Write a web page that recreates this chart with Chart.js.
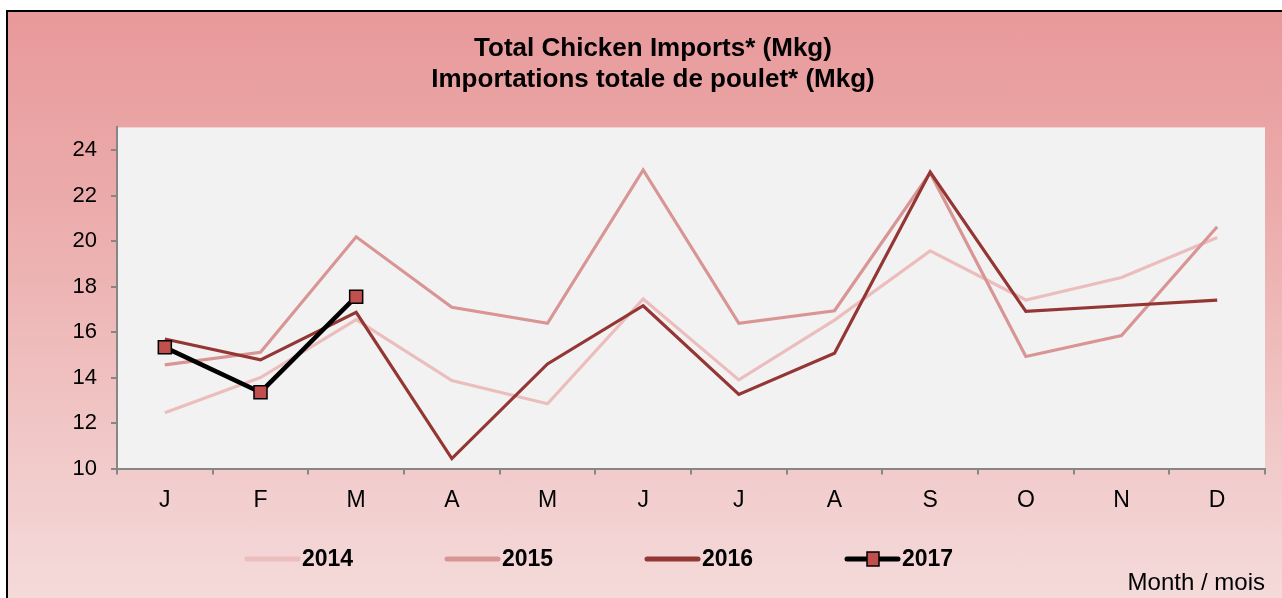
<!DOCTYPE html>
<html>
<head>
<meta charset="utf-8">
<script src="https://cdn.jsdelivr.net/npm/chart.js@4"></script>
<style>
  html, body { margin: 0; padding: 0; background: #fff; overflow: hidden; }
  #wrap {
    position: absolute; left: 6px; top: 10px;
    width: 1290px; height: 600px;
    border-left: 2px solid #000; border-top: 2px solid #000;
    background: linear-gradient(to bottom, #e8999a 0%, #ecadad 35%, #f5dcdc 100%);
  }
  canvas { display: block; }
</style>
</head>
<body>
<div id="wrap"><canvas id="importsChart" width="1290" height="600"></canvas></div>
<script>
const months = ["J", "F", "M", "A", "M", "J", "J", "A", "S", "O", "N", "D"];
const yearLabels = ["2014", "2015", "2016", "2017"];
const imports2014 = [12.45, 14.0, 16.55, 13.87, 12.85, 17.46, 13.9, 16.53, 19.57, 17.41, 18.4, 20.16];
const imports2015 = [14.56, 15.11, 20.19, 17.09, 16.39, 23.13, 16.39, 16.94, 23.0, 14.93, 15.85, 20.63];
const imports2016 = [15.7, 14.78, 16.87, 10.44, 14.6, 17.16, 13.26, 15.07, 23.04, 16.91, 17.16, 17.41];
const imports2017 = [15.33, 13.36, 17.56];
const yTicks = [10, 12, 14, 16, 18, 20, 22, 24];

const FONT = "'Liberation Sans', Arial, sans-serif";
const axisGray = "#868686";

// light grey plot area
const plotBackground = {
  id: "plotBackground",
  beforeDraw(chart) {
    const { ctx, chartArea } = chart;
    ctx.save();
    ctx.fillStyle = "#f2f2f2";
    ctx.fillRect(chartArea.left, chartArea.top, chartArea.right - chartArea.left, chartArea.bottom - chartArea.top);
    ctx.restore();
  }
};

// legend row like the excel one
const rowLegend = {
  id: "rowLegend",
  afterDraw(chart) {
    const ctx = chart.ctx;
    const y = 547;
    ctx.save();
    chart.data.datasets.forEach(function (ds, i) {
      const x0 = 237 + i * 200;
      ctx.strokeStyle = ds.borderColor;
      ctx.lineWidth = 5;
      ctx.lineCap = "round";
      ctx.beginPath();
      ctx.moveTo(x0 + 2, y);
      ctx.lineTo(x0 + 53, y);
      ctx.stroke();
      if (ds.pointRadius > 0) {
        ctx.fillStyle = ds.pointBackgroundColor;
        ctx.strokeStyle = ds.pointBorderColor;
        ctx.lineWidth = 1.5;
        ctx.fillRect(x0 + 22, y - 7, 12, 14);
        ctx.strokeRect(x0 + 22, y - 7, 12, 14);
      }
      ctx.fillStyle = "#000";
      ctx.font = "bold 23px " + FONT;
      ctx.textBaseline = "middle";
      ctx.textAlign = "left";
      ctx.fillText(yearLabels[i], x0 + 57, y + 1);
    });
    ctx.restore();
  }
};

function lineSet(label, data, color, width) {
  return {
    label: label,
    data: data,
    borderColor: color,
    backgroundColor: color,
    borderWidth: width,
    borderJoinStyle: "miter",
    pointRadius: 0,
    fill: false,
    tension: 0
  };
}

const datasets = [
  lineSet(yearLabels[0], imports2014, "#ecbdbd", 3.2),
  lineSet(yearLabels[1], imports2015, "#d99594", 3.2),
  lineSet(yearLabels[2], imports2016, "#943634", 3.2),
  Object.assign(lineSet(yearLabels[3], imports2017, "#000000", 4.5), {
    pointStyle: "rect",
    pointRadius: 9.2,
    pointBackgroundColor: "#c0504d",
    pointBorderColor: "#000000",
    pointBorderWidth: 1.5
  })
];
// 2017 drawn on top
datasets.forEach(function (ds, i) { ds.order = datasets.length - i; });

new Chart(document.getElementById("importsChart"), {
  type: "line",
  data: { labels: months, datasets: datasets },
  options: {
    responsive: false,
    animation: false,
    layout: { padding: { left: 33, right: 33, top: 0, bottom: 14 } },
    plugins: {
      legend: { display: false },
      tooltip: { enabled: false },
      title: {
        display: true,
        text: ["Total Chicken Imports* (Mkg)", "Importations totale de poulet* (Mkg)"],
        color: "#000",
        font: { family: FONT, size: 26, weight: "bold", lineHeight: 1.2 },
        padding: { top: 21, bottom: 32 }
      }
    },
    scales: {
      x: {
        offset: true,
        grid: { offset: true, drawOnChartArea: false, drawTicks: true, tickLength: 6, color: axisGray, lineWidth: 2 },
        border: { color: axisGray, width: 2 },
        ticks: { color: "#000", font: { family: FONT, size: 23 }, padding: 12, maxRotation: 0 },
        title: {
          display: true,
          text: "Month / mois",
          align: "end",
          color: "#000",
          font: { family: FONT, size: 24 },
          padding: { top: 43, bottom: 0 }
        }
      },
      y: {
        min: 10,
        max: 25,
        afterBuildTicks(scale) {
          scale.ticks = yTicks.map(function (v) { return { value: v }; });
        },
        afterFit(scale) {
          scale.width = 76;
        },
        grid: { drawOnChartArea: false, drawTicks: true, tickLength: 6, color: axisGray, lineWidth: 2 },
        border: { color: axisGray, width: 2 },
        ticks: { color: "#000", font: { family: FONT, size: 22 }, padding: 14 }
      }
    }
  },
  plugins: [plotBackground, rowLegend]
});
</script>
</body>
</html>
